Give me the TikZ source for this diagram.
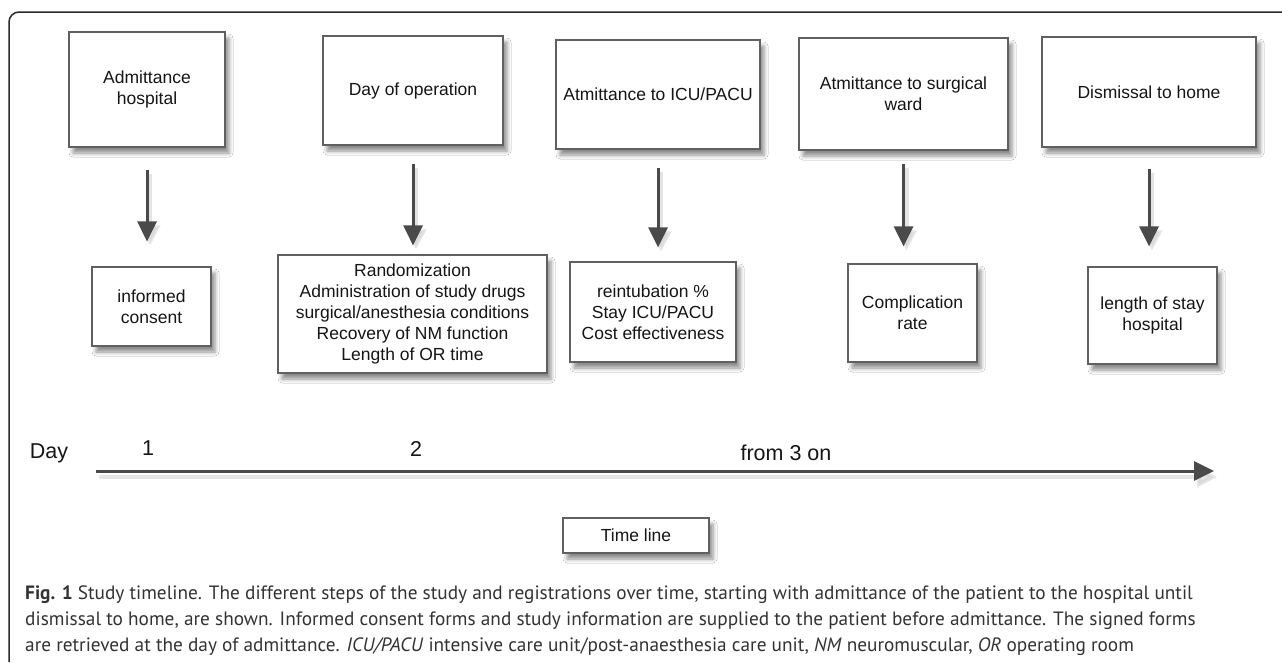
\documentclass[tikz,border=0pt]{standalone}
\usepackage{fontspec}
\setmainfont{Liberation Sans}
\newfontfamily\capfont{PT Sans}
\usetikzlibrary{arrows.meta,shadows,shadows.blur,calc}
\definecolor{boxline}{HTML}{606060}
\definecolor{arrowcol}{HTML}{4A4A4A}
\definecolor{txt}{HTML}{151515}
\definecolor{captxt}{HTML}{333333}
\definecolor{framecol}{HTML}{2A2A2A}
\tikzset{
  box/.style={draw=boxline, line width=1.2pt, fill=white, align=center, text=txt,
    font=\fontsize{17.5}{21}\selectfont, inner sep=0pt,
    blur shadow={shadow xshift=4pt, shadow yshift=-6pt, shadow blur radius=4pt, shadow opacity=45}},
  bigarrow/.style={draw=arrowcol, line width=3pt, -{Triangle[length=20pt,width=19pt]}},
  arrowshade/.style={draw=gray!35, line width=4pt, opacity=0.6, -{Triangle[length=20pt,width=20pt]}},
  daylab/.style={text=txt, font=\fontsize{21.5}{25}\selectfont, inner sep=0pt},
  capline/.style={anchor=base west, text=captxt, font=\capfont\fontsize{19.3}{24}\selectfont, inner sep=0pt},
}
\begin{document}
\begin{tikzpicture}[x=1pt,y=-1pt]
\useasboundingbox (0,0) rectangle (1282,662);
\fill[white] (0,0) rectangle (1282,662);
\draw[framecol, line width=1.5pt, rounded corners=10pt] (9,662) -- (9,12) -- (1282,12);

% top boxes
\node[box, minimum width=156pt, minimum height=115pt] (t1) at (147,89.5) {Admittance\\hospital};
\node[box, minimum width=180pt, minimum height=109pt] (t2) at (413,90.5) {Day of operation};
\node[box, minimum width=204pt, minimum height=109pt] (t3) at (658,94.5) {Atmittance to ICU/PACU};
\node[box, minimum width=209pt, minimum height=112pt] (t4) at (903.5,94) {Atmittance to surgical\\ward};
\node[box, minimum width=214pt, minimum height=110pt] (t5) at (1149,92) {Dismissal to home};

% bottom boxes
\node[box, minimum width=119pt, minimum height=79pt] (b1) at (151.5,306.5) {informed\\consent};
\node[box, minimum width=269pt, minimum height=118pt] (b2) at (412.5,314) {Randomization\\Administration of study drugs\\surgical/anesthesia conditions\\Recovery of NM function\\Length of OR time};
\node[box, minimum width=166pt, minimum height=100pt] (b3) at (653,312) {reintubation \%\\Stay ICU/PACU\\Cost effectiveness};
\node[box, minimum width=129pt, minimum height=98pt] (b4) at (912.5,313) {Complication\\rate};
\node[box, minimum width=129pt, minimum height=97pt] (b5) at (1152.5,315.5) {length of stay\\hospital};

% arrows (soft shade, then arrow)
\foreach \t/\b/\s/\e in {t1/b1/22/25, t2/b2/18/9, t3/b3/18/14, t4/b4/13/17, t5/b5/21/20}{
  \draw[arrowshade, shorten <=\s pt, shorten >=\e pt, transform canvas={shift={(3pt,-4pt)}}] (\t.south) -- (\t.south |- \b.north);
  \draw[bigarrow, shorten <=\s pt, shorten >=\e pt] (\t.south) -- (\t.south |- \b.north);
}

% timeline
\node[daylab] (day) at (49,453) {Day};
\node[daylab] (d1) at (148,448) {1};
\node[daylab] (d2) at (416,449) {2};
\node[daylab] (d3) at (786,453) {from 3 on};
\coordinate (tl0) at (96,471);
\coordinate (tl1) at (1214,471);
\draw[arrowshade, transform canvas={shift={(3pt,-6pt)}}] (tl0) -- (tl1);
\draw[bigarrow] (tl0) -- (tl1);
\node[box, minimum width=146pt, minimum height=35pt] (tlbox) at (636,535.5) {Time line};

% caption
\node[capline] (c1) at (25,599) {\textbf{Fig. 1} Study timeline. The different steps of the study and registrations over time, starting with admittance of the patient to the hospital until};
\node[capline] (c2) at (25,625) {dismissal to home, are shown. Informed consent forms and study information are supplied to the patient before admittance. The signed forms};
\node[capline] (c3) at (25,651) {are retrieved at the day of admittance. \textit{ICU/PACU} intensive care unit/post-anaesthesia care unit, \textit{NM} neuromuscular, \textit{OR} operating room};
\end{tikzpicture}
\end{document}
